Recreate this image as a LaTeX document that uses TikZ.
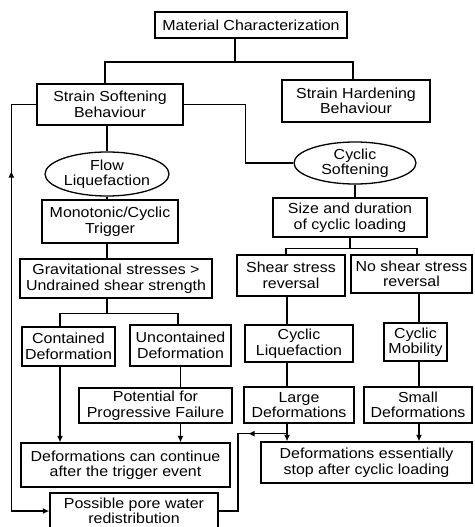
\documentclass[tikz,border=0pt]{standalone}
\usepackage{fontspec}
\setmainfont{Liberation Sans}[FakeStretch=1.1]
\usetikzlibrary{shapes.geometric,arrows.meta,decorations.markings,calc}
\begin{document}
\begin{tikzpicture}[x=1pt,y=-1pt,
  txt/.style={font=\fontsize{14.5}{15.5}\selectfont, align=center, inner sep=0pt},
  box/.style={txt, draw, rectangle, line width=1.3pt},
  oval/.style={txt, draw, ellipse, line width=1.3pt},
  conn/.style={line width=1.3pt},
  arr/.style={-{Latex[length=6.5pt,width=6pt]}},
  midup/.style={postaction={decorate}, decoration={markings, mark=at position #1 with {\arrow{Latex[length=6.5pt,width=6pt,reversed]}}}},
  midfwd/.style={postaction={decorate}, decoration={markings, mark=at position #1 with {\arrow{Latex[length=6.5pt,width=6pt]}}}}]
\clip (0,0) rectangle (474,527);
\fill[white] (0,0) rectangle (474,527);

% left column
\node[box, minimum width=192pt, minimum height=26pt] (mc) at (251,25) {Material Characterization};
\node[box, minimum width=146pt, minimum height=41pt] (ss) at (110,104.5) {Strain Softening\\Behaviour};
\node[box, minimum width=148pt, minimum height=42pt] (sh) at (356,101) {Strain Hardening\\Behaviour};
\node[oval, minimum width=124pt, minimum height=44pt] (fl) at (107,174) {Flow\\Liquefaction};
\node[box, minimum width=136pt, minimum height=43pt] (mt) at (110,221.5) {Monotonic/Cyclic\\Trigger};
\node[box, minimum width=192pt, minimum height=39pt] (gs) at (116,278.5) {Gravitational stresses >\\Undrained shear strength};
\node[box, minimum width=93pt, minimum height=39pt] (cd) at (68.5,346.5) {Contained\\Deformation};
\node[box, minimum width=101pt, minimum height=41pt] (ud) at (180.5,345.5) {Uncontained\\Deformation};
\node[box, minimum width=153pt, minimum height=35pt] (pf) at (155.5,405.5) {Potential for\\Progressive Failure};
\node[box, minimum width=209pt, minimum height=44pt] (dc) at (125.5,465) {Deformations can continue\\after the trigger event};
\node[box, minimum width=168pt, minimum height=36pt] (pw) at (134,511) {Possible pore water\\redistribution};

% right column
\node[oval, minimum width=122pt, minimum height=42pt] (cs) at (355,163) {Cyclic\\Softening};
\node[box, minimum width=154pt, minimum height=39pt] (sd) at (350,217.5) {Size and duration\\of cyclic loading};
\node[box, minimum width=108pt, minimum height=41pt] (sr) at (291,275.5) {Shear stress\\reversal};
\node[box, minimum width=121pt, minimum height=38pt] (ns) at (411.5,274) {No shear stress\\reversal};
\node[box, minimum width=108pt, minimum height=37pt] (cl) at (299,343.5) {Cyclic\\Liquefaction};
\node[box, minimum width=63pt, minimum height=38pt] (cm) at (415.5,342) {Cyclic\\Mobility};
\node[box, minimum width=110pt, minimum height=36pt] (ld) at (299,405) {Large\\Deformations};
\node[box, minimum width=108pt, minimum height=36pt] (sm) at (418,405) {Small\\Deformations};
\node[box, minimum width=211pt, minimum height=41pt] (es) at (366.5,462.5) {Deformations essentially\\stop after cyclic loading};

% helper coordinates
\coordinate (j1) at (235,62);
\coordinate (cdx) at ($(cd.south)+(-8.5,0)$);
\coordinate (srx) at ($(sr.south)+(-4,0)$);
\coordinate (nsx) at ($(sm.south)+(1,0)$);
\coordinate (j4) at ($(sd.south)+(0,11)$);

% connectors top
\draw[conn] (mc.south -| j1) -- (j1);
\draw[conn] ($(ss.north)+(-5,0)$) |- (j1) -| ($(sh.north)+(-3,0)$);
\draw[conn] (ss.east) -- ++(62,0) |- (cs.west);
\draw[conn, arr, midup=98pt] (ss.west) -- ++(-25,0) |- (pw.west);

% left chain
\draw[conn] (fl.north) -- (fl.north |- ss.south);
\draw[conn] (fl.south) -- (fl.south |- mt.north);
\draw[conn] (fl.south |- mt.south) -- (fl.south |- gs.north);
\draw[conn] (fl.south |- gs.south) -- ++(0,15) coordinate (j2);
\draw[conn] (cdx |- cd.north) |- (j2) -| ($(ud.north)+(-2.5,0)$);
\draw[conn] (ud.south) -- (ud.south |- pf.north);
\draw[conn, arr] (cdx) -- (cdx |- dc.north);
\draw[conn, arr] (ud.south |- pf.south) -- (ud.south |- dc.north);

% right chain
\draw[conn] (cs.south) -- (cs.south |- sd.north);
\draw[conn] (sd.south) -- (j4);
\draw[conn] ($(sr.north)+(-5,0)$) |- (j4) -| ($(ns.north)+(5.5,0)$);
\draw[conn] (srx |- sr.south) -- (srx |- cl.north);
\draw[conn] (srx |- cl.south) -- (srx |- ld.north);
\draw[conn] (nsx |- ns.south) -- (nsx |- cm.north);
\draw[conn] (nsx |- cm.south) -- (nsx |- sm.north);
\draw[conn, arr] (nsx |- sm.south) -- (nsx |- es.north);
\draw[conn, arr] (srx |- ld.south) -- (srx |- es.north);
\draw[conn, midfwd=39pt] ($(srx |- ld.south)+(0,10)$) -- ++(-49,0) |- (pw.east);
\end{tikzpicture}
\end{document}
